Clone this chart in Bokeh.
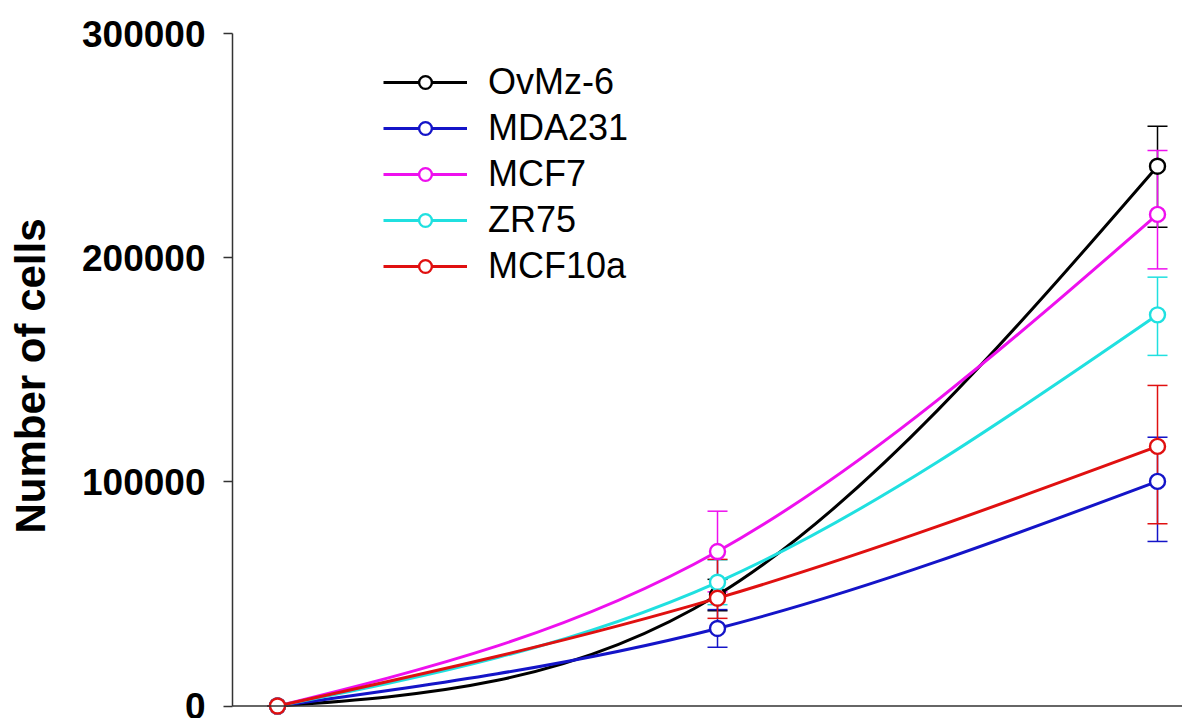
from bokeh.plotting import figure
from bokeh.models import (ColumnDataSource, Range1d, FixedTicker, Span, Whisker,
                          TeeHead, Legend, LegendItem)
from bokeh.embed import file_html
from bokeh.resources import INLINE
import numpy as np

# ---- data ----
time_points = [0, 1, 2]
series_names = ["OvMz-6", "MDA231", "MCF7", "ZR75", "MCF10a"]
ovmz6 = [0, 49500, 240800]
mda231 = [0, 34600, 100200]
mcf7 = [0, 68900, 219300]
zr75 = [0, 55200, 174500]
mcf10a = [0, 48100, 115800]
ovmz6_err_hi = [0, 7000, 17800]
ovmz6_err_lo = [0, 7000, 27200]
mda231_err_hi = [0, 8400, 19700]
mda231_err_lo = [0, 8400, 26800]
mcf7_err_hi = [0, 18000, 28500]
mcf7_err_lo = [0, 18000, 24300]
zr75_err_hi = [0, 10000, 16800]
zr75_err_lo = [0, 10000, 18100]
mcf10a_err_hi = [0, 17300, 27200]
mcf10a_err_lo = [0, 9000, 34500]
y_ticks = [0, 100000, 200000, 300000]

values = [ovmz6, mda231, mcf7, zr75, mcf10a]
errs_hi = [ovmz6_err_hi, mda231_err_hi, mcf7_err_hi, zr75_err_hi, mcf10a_err_hi]
errs_lo = [ovmz6_err_lo, mda231_err_lo, mcf7_err_lo, zr75_err_lo, mcf10a_err_lo]
colors = ["#000000", "#1414c8", "#ee10ee", "#20e0e0", "#e01010"]

FONT = "Liberation Sans"

p = figure(width=1182, height=718, output_backend="svg", toolbar_location=None,
           x_range=Range1d(-0.1023, 2.0568), y_range=Range1d(-5576, 300000),
           min_border_left=232, min_border_top=33, min_border_right=0,
           min_border_bottom=0)
p.outline_line_color = None
p.xgrid.visible = False
p.ygrid.visible = False
p.xaxis.visible = False

ax = p.yaxis[0]
ax.ticker = FixedTicker(ticks=y_ticks)
ax.bounds = (0, 300000)
ax.formatter.use_scientific = False
ax.axis_label = "Number of cells"
ax.axis_label_text_font = FONT
ax.axis_label_text_font_style = "bold"
ax.axis_label_text_font_size = "42px"
ax.axis_label_text_color = "black"
ax.axis_label_standoff = 25
ax.major_label_text_font = FONT
ax.major_label_text_font_style = "bold"
ax.major_label_text_font_size = "37px"
ax.major_label_text_color = "black"
ax.major_label_standoff = 18
ax.major_tick_out = 9
ax.major_tick_in = 0
ax.minor_tick_out = 0
ax.minor_tick_in = 0
ax.axis_line_color = "#333333"
ax.axis_line_width = 1.5
ax.major_tick_line_color = "#333333"
ax.major_tick_line_width = 1.5

p.add_layout(Span(location=0, dimension="width", line_color="#333333", line_width=1.5))


def spline_segments(xs, ys):
    """Natural cubic spline through the data points, as cubic Bezier segments."""
    n = len(xs)
    h = [xs[i + 1] - xs[i] for i in range(n - 1)]
    M = np.zeros(n)
    if n > 2:
        A = np.zeros((n - 2, n - 2))
        b = np.zeros(n - 2)
        for i in range(1, n - 1):
            A[i - 1, i - 1] = 2 * (h[i - 1] + h[i])
            if i - 2 >= 0:
                A[i - 1, i - 2] = h[i - 1]
            if i < n - 2:
                A[i - 1, i] = h[i]
            b[i - 1] = 6 * ((ys[i + 1] - ys[i]) / h[i] - (ys[i] - ys[i - 1]) / h[i - 1])
        M[1:n - 1] = np.linalg.solve(A, b)
    seg = dict(x0=[], y0=[], x1=[], y1=[], cx0=[], cy0=[], cx1=[], cy1=[])
    for i in range(n - 1):
        s = (ys[i + 1] - ys[i]) / h[i]
        da = s - h[i] * (2 * M[i] + M[i + 1]) / 6
        db = s + h[i] * (M[i] + 2 * M[i + 1]) / 6
        seg["x0"].append(xs[i]); seg["y0"].append(ys[i])
        seg["x1"].append(xs[i + 1]); seg["y1"].append(ys[i + 1])
        seg["cx0"].append(xs[i] + h[i] / 3); seg["cy0"].append(ys[i] + da * h[i] / 3)
        seg["cx1"].append(xs[i + 1] - h[i] / 3); seg["cy1"].append(ys[i + 1] - db * h[i] / 3)
    return seg


items = []
for name, vals, ehi, elo, col in zip(series_names, values, errs_hi, errs_lo, colors):
    src = ColumnDataSource(dict(
        x=time_points, y=vals,
        upper=[v + e for v, e in zip(vals, ehi)],
        lower=[v - e for v, e in zip(vals, elo)],
    ))
    w = Whisker(source=src, base="x", upper="upper", lower="lower", dimension="height",
                line_color=col, line_width=1.5, level="underlay",
                upper_head=TeeHead(size=20, line_color=col, line_width=1.5),
                lower_head=TeeHead(size=20, line_color=col, line_width=1.5))
    p.add_layout(w)
    seg = ColumnDataSource(spline_segments(time_points, vals))
    rb = p.bezier(x0="x0", y0="y0", x1="x1", y1="y1", cx0="cx0", cy0="cy0",
                  cx1="cx1", cy1="cy1", source=seg, line_color=col, line_width=3)
    rs = p.scatter("x", "y", source=src, marker="circle", size=15, line_color=col,
                   line_width=2.4, fill_color="white")
    items.append(LegendItem(label=name, renderers=[rb, rs]))

legend = Legend(items=items, location=(151, 429), glyph_width=84, glyph_height=32,
                label_standoff=21, spacing=0, label_height=46, padding=0, margin=0,
                border_line_color=None, background_fill_alpha=0,
                label_text_font=FONT, label_text_font_size="36px",
                label_text_color="black")
p.add_layout(legend, "center")

open("out.html", "w").write(file_html(p, INLINE))
